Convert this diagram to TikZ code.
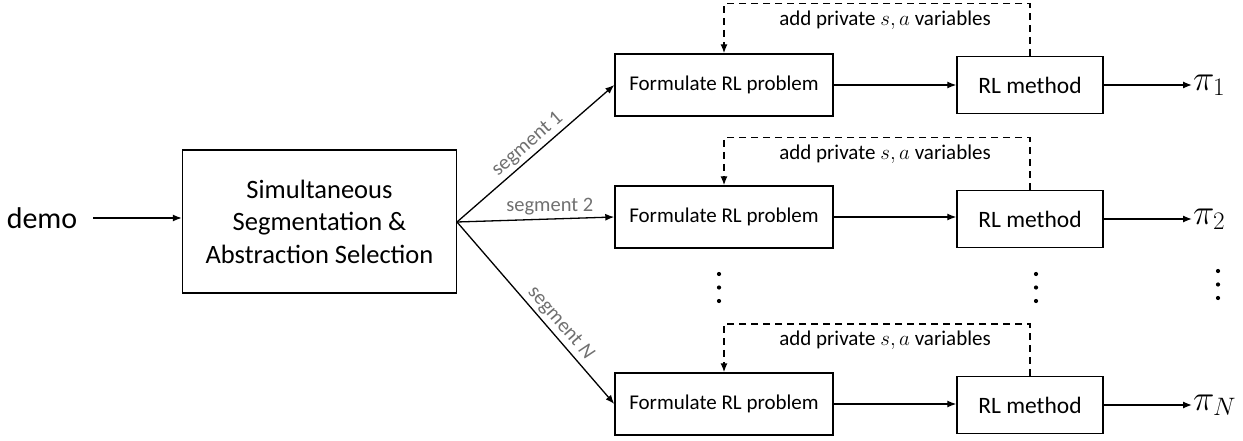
\RequirePackage{fix-cm}
\documentclass[tikz,border=0pt]{standalone}
\usepackage{fontspec}
\setmainfont{Carlito}
\usetikzlibrary{arrows.meta,calc}
\definecolor{seggray}{RGB}{112,112,112}
\tikzset{
  box/.style={draw, line width=1.4pt, inner sep=0pt, align=center},
  fbox/.style={box, minimum width=218pt, minimum height=62pt, font=\fontsize{21}{25}\selectfont},
  rbox/.style={box, minimum width=146pt, minimum height=57pt, font=\fontsize{23.5}{28}\selectfont},
  arr/.style={line width=1.3pt, -{Latex[length=9pt,width=7pt]}},
  darr/.style={line width=1.4pt, dash pattern=on 7pt off 5pt, -{Latex[length=9pt,width=7pt]}},
  seglab/.style={text=seggray, font=\fontsize{20.5}{24}\selectfont, inner sep=3pt},
  addlab/.style={font=\fontsize{21}{25}\selectfont},
  pilab/.style={font=\fontsize{36}{42}\selectfont, inner sep=1pt, anchor=west},
}
\begin{document}
\begin{tikzpicture}[x=1pt,y=-1pt]
\useasboundingbox (0,0) rectangle (1243,441);
% left part
\node[font=\fontsize{30}{34}\selectfont, inner sep=0pt] (demo) at (42,218) {demo};
\node[box, minimum width=274pt, minimum height=143pt, font=\fontsize{26.5}{32.5}\selectfont] (big) at (319.5,221.5)
  {Simultaneous\\Segmentation \&\\Abstraction Selection};
\coordinate (demoend) at (93,218);
\draw[arr] (demoend) -- (demoend -| big.west);
\coordinate (fan) at (457,222);
% rows
\node[fbox] (F1) at (724,85) {Formulate RL problem};
\node[rbox] (R1) at (1030,85) {RL method};
\node[fbox] (F2) at (724,217) {Formulate RL problem};
\node[rbox] (R2) at (1030,219) {RL method};
\node[fbox] (FN) at (724,404) {Formulate RL problem};
\node[rbox] (RN) at (1030,405) {RL method};
% fan arrows
\draw[arr] (fan) -- node[seglab, sloped, above, pos=0.5] {segment 1} (F1.west);
\draw[arr] (fan) -- node[seglab, above, pos=0.59] {segment 2} (F2.west);
\draw[arr] (fan) -- node[seglab, sloped, above, pos=0.6] {segment \textit{N}} (FN.west);
% row internals
\foreach \i in {1,2,N} {
  \draw[arr] (F\i.east) -- (F\i.east -| R\i.west);
  \draw[darr] (R\i.north) -- ++(0,-52) coordinate (T\i) -| (F\i.north);
  \node[addlab, below] at ($(T\i -| F\i.north)!0.5!(T\i) + (8,4)$) {add private $s,a$ variables};
}
% outputs
\node[pilab] (P1) at (1192,85) {$\pi_1$};
\node[pilab] (P2) at (1192,219) {$\pi_2$};
\node[pilab] (PN) at (1192,405) {$\pi_N$};
\draw[arr] (R1.east) -- (R1.east -| P1.west);
\draw[arr] (R2.east) -- (R2.east -| P2.west);
\draw[arr] (RN.east) -- (RN.east -| PN.west);
% vertical dots
\foreach \x/\y in {719/274, 1036/274, 1218/271} {
  \foreach \k in {0,1,2} \fill (\x,\y+13.5*\k) circle (2.1pt);
}
\end{tikzpicture}
\end{document}
